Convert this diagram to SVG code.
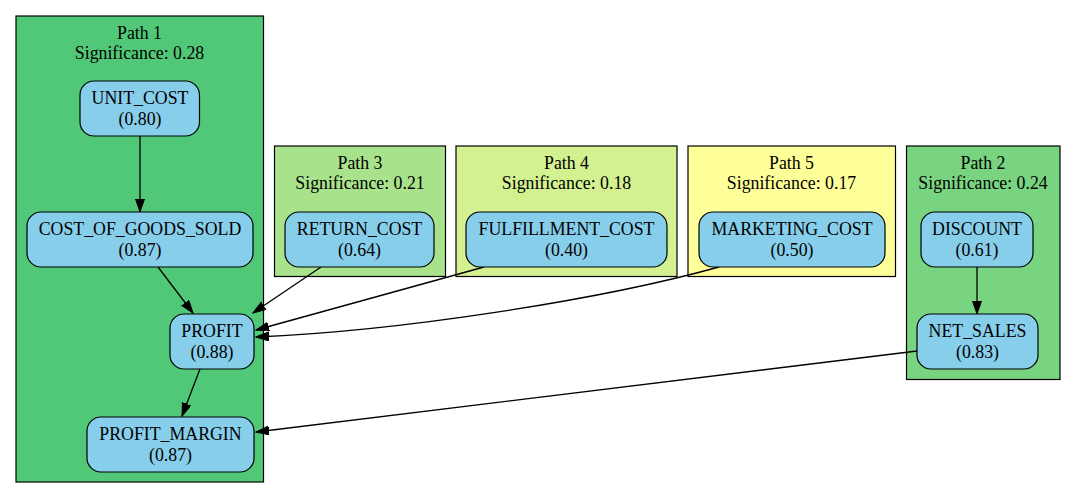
<svg xmlns="http://www.w3.org/2000/svg" width="1076" height="499" viewBox="0 0 1076 499">
<style>
.cl{stroke:#000;stroke-width:1.2}
.nd{fill:#87ceeb;stroke:#000;stroke-width:1.2}
text{font-family:"Liberation Serif","Times New Roman",serif;font-size:17.8px;fill:#000;text-anchor:middle}
.e{fill:none;stroke:#000;stroke-width:1.3;marker-end:url(#ah)}
</style>
<defs>
<marker id="ah" markerUnits="userSpaceOnUse" markerWidth="14" markerHeight="10" refX="13" refY="4.5" orient="auto">
<path d="M0,0 L13,4.5 L0,9 z" fill="#000" stroke="#000" stroke-width="1"/>
</marker>
</defs>
<rect width="1076" height="499" fill="#fff"/>
<g id="cluster_path1">
<rect class="cl" x="16" y="16" width="247.5" height="466" fill="#50c878"/>
<text x="139.5" y="39">Path 1</text>
<text x="139.5" y="59">Significance: 0.28</text>
</g>
<g id="cluster_path3">
<rect class="cl" x="274.5" y="146" width="171" height="130.5" fill="#a8e28a"/>
<text x="360" y="169">Path 3</text>
<text x="360" y="189">Significance: 0.21</text>
</g>
<g id="cluster_path4">
<rect class="cl" x="456" y="146" width="221" height="130.5" fill="#d3f191"/>
<text x="566.5" y="169">Path 4</text>
<text x="566.5" y="189">Significance: 0.18</text>
</g>
<g id="cluster_path5">
<rect class="cl" x="688" y="146" width="207.5" height="130.5" fill="#ffff99"/>
<text x="791.5" y="169">Path 5</text>
<text x="791.5" y="189">Significance: 0.17</text>
</g>
<g id="cluster_path2">
<rect class="cl" x="906.5" y="146" width="153.5" height="233.5" fill="#78d480"/>
<text x="983" y="169">Path 2</text>
<text x="983" y="189">Significance: 0.24</text>
</g>
<g id="connectors">
<path class="e" d="M140,136 L140,212"/>
<path class="e" d="M158,267 L193,313"/>
<path class="e" d="M200,369 L182,416"/>
<path class="e" d="M321,267 L253,313"/>
<path class="e" d="M484,267 L256,330"/>
<path class="e" d="M719,267 C600,300 400,331 256,337"/>
<path class="e" d="M917,351 L256,432"/>
<path class="e" d="M977,267 L977,314"/>
</g>
<g id="node_unit_cost">
<rect class="nd" x="80" y="81" width="119.5" height="55" rx="14"/>
<text x="140" y="104">UNIT_COST</text>
<text x="140" y="124.5">(0.80)</text>
</g>
<g id="node_cogs">
<rect class="nd" x="27" y="212" width="226" height="55" rx="14"/>
<text x="140" y="235">COST_OF_GOODS_SOLD</text>
<text x="140" y="255.5">(0.87)</text>
</g>
<g id="node_profit">
<rect class="nd" x="170" y="314" width="84" height="55" rx="14"/>
<text x="212" y="337">PROFIT</text>
<text x="212" y="357.5">(0.88)</text>
</g>
<g id="node_profit_margin">
<rect class="nd" x="87" y="417" width="167" height="55" rx="14"/>
<text x="170.5" y="440">PROFIT_MARGIN</text>
<text x="170.5" y="460.5">(0.87)</text>
</g>
<g id="node_return_cost">
<rect class="nd" x="285" y="212" width="149" height="55" rx="14"/>
<text x="359.5" y="235">RETURN_COST</text>
<text x="359.5" y="255.5">(0.64)</text>
</g>
<g id="node_fulfillment_cost">
<rect class="nd" x="466" y="212" width="201" height="55" rx="14"/>
<text x="566.5" y="235">FULFILLMENT_COST</text>
<text x="566.5" y="255.5">(0.40)</text>
</g>
<g id="node_marketing_cost">
<rect class="nd" x="699" y="212" width="186" height="55" rx="14"/>
<text x="792" y="235">MARKETING_COST</text>
<text x="792" y="255.5">(0.50)</text>
</g>
<g id="node_discount">
<rect class="nd" x="921" y="212" width="112" height="55" rx="14"/>
<text x="977" y="235">DISCOUNT</text>
<text x="977" y="255.5">(0.61)</text>
</g>
<g id="node_net_sales">
<rect class="nd" x="917" y="314" width="121" height="55" rx="14"/>
<text x="977.5" y="337">NET_SALES</text>
<text x="977.5" y="357.5">(0.83)</text>
</g>
</svg>
